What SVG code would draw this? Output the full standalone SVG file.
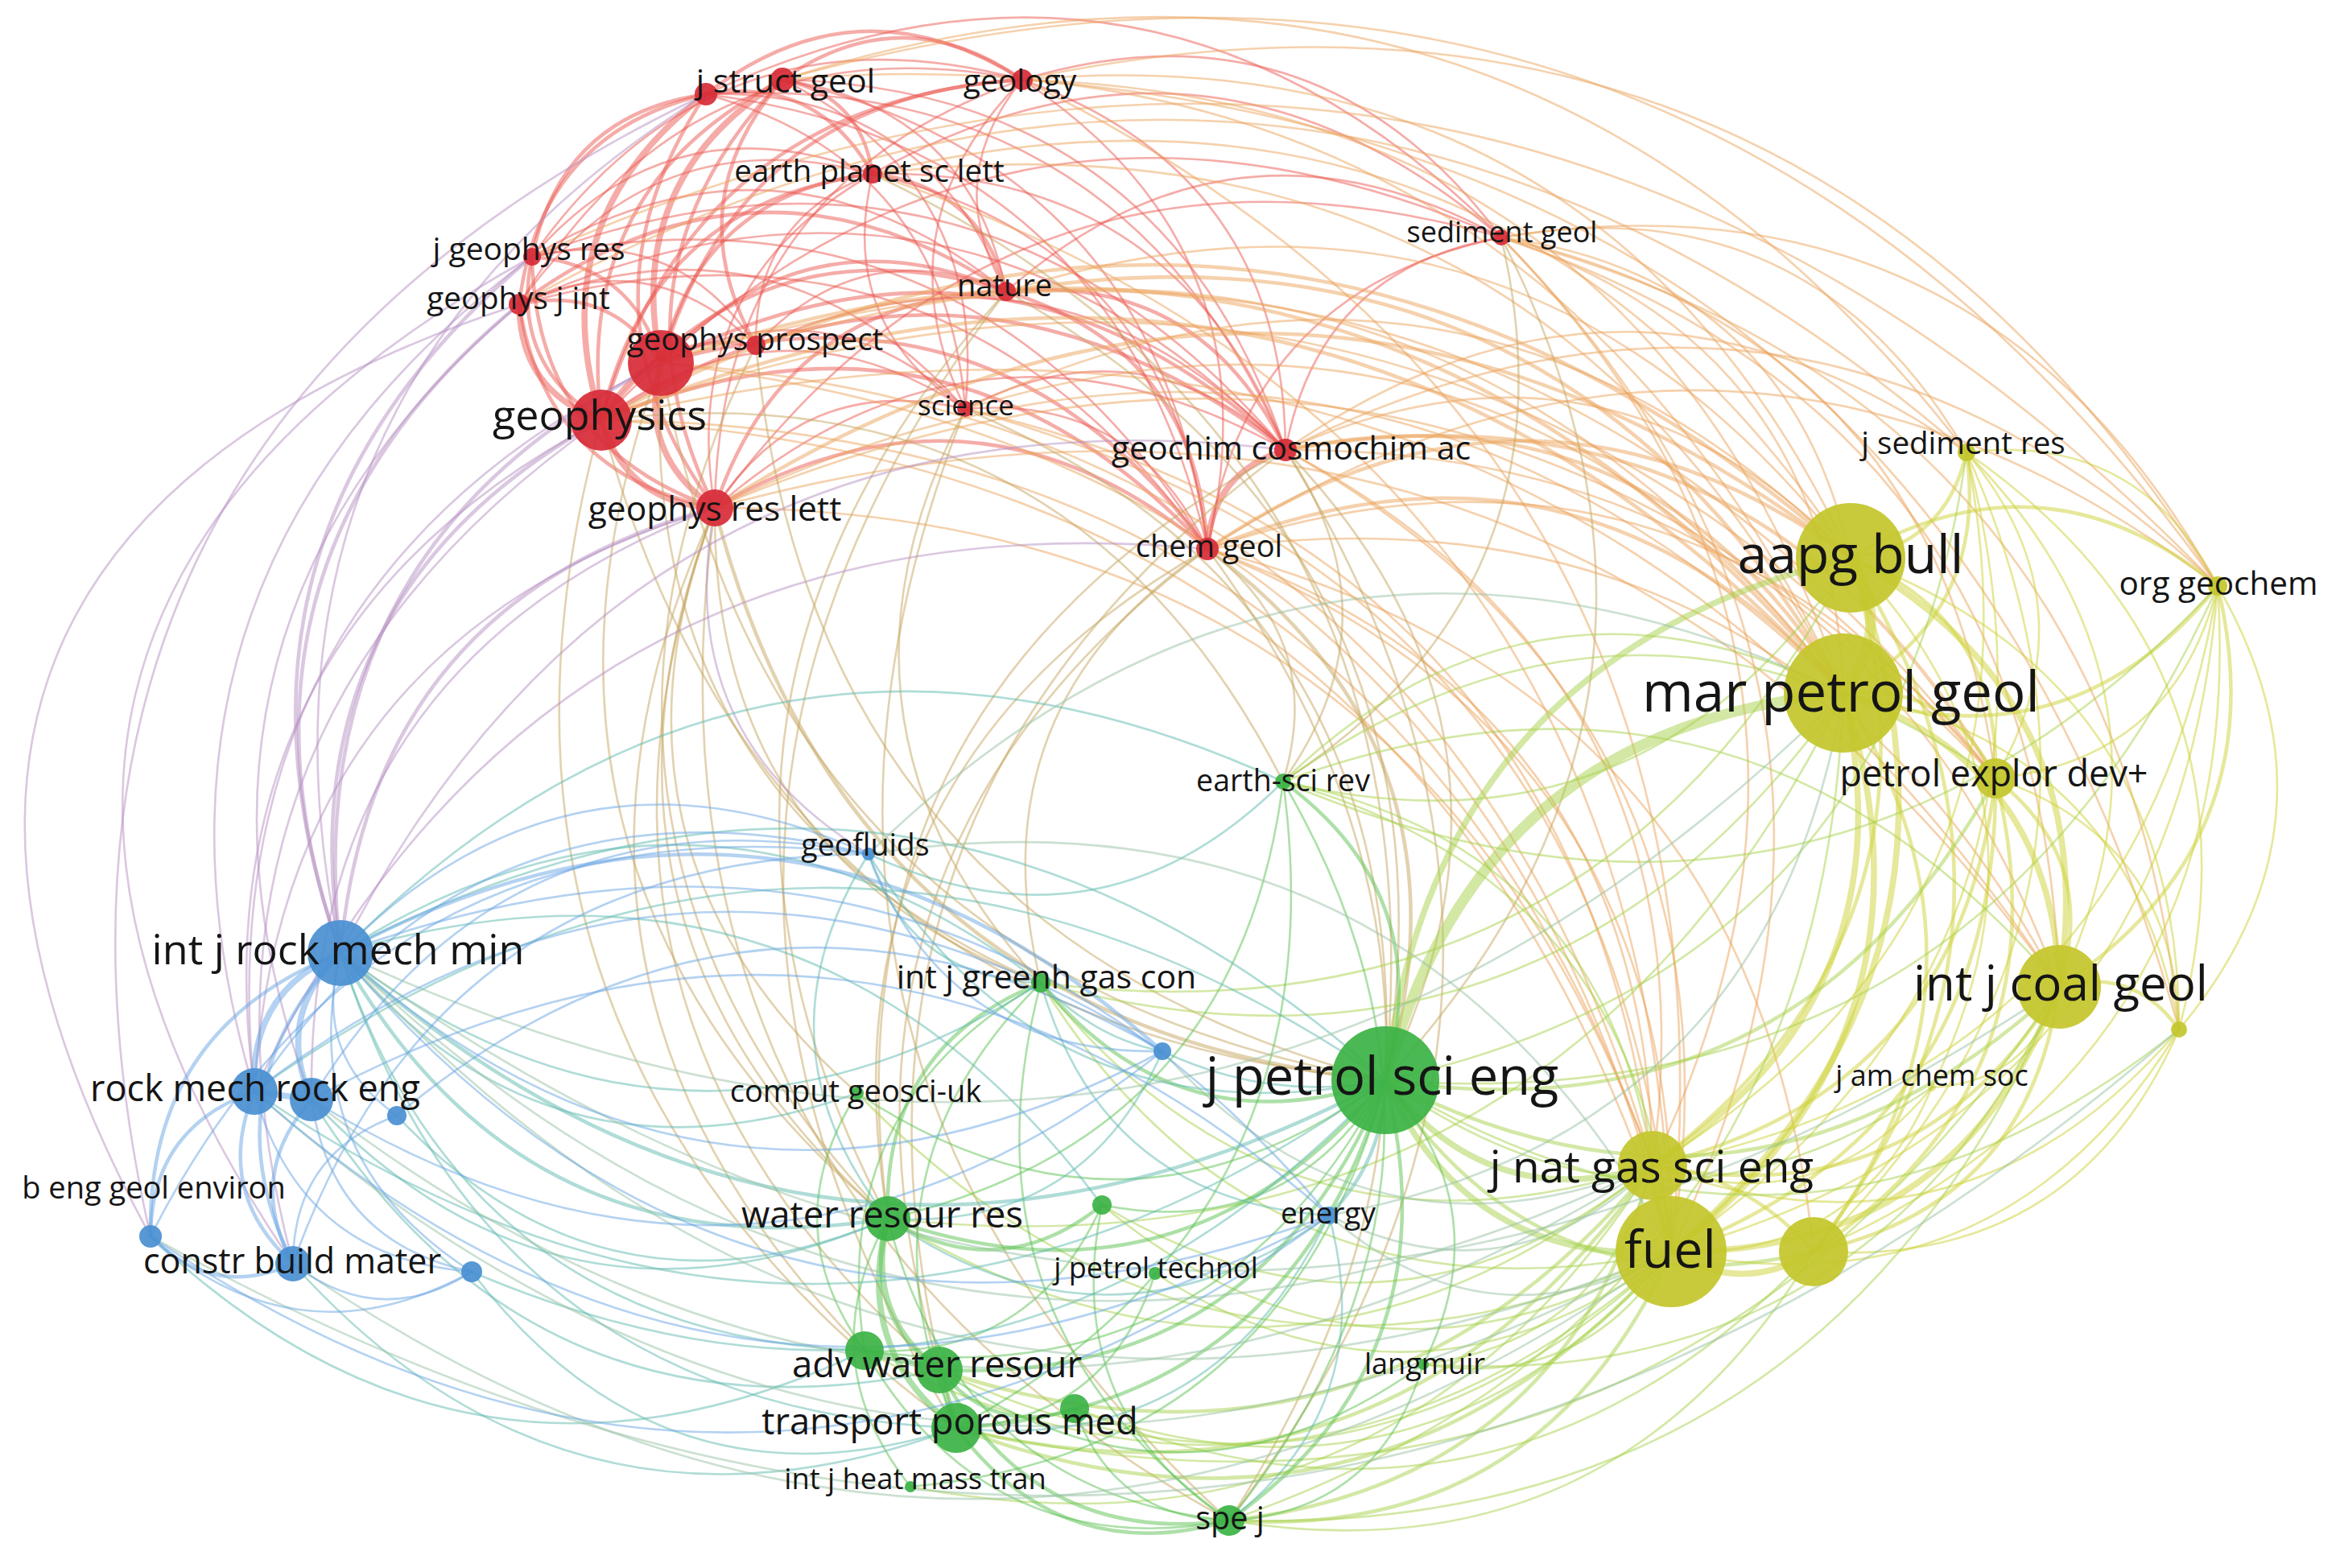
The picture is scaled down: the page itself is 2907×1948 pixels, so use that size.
<svg xmlns="http://www.w3.org/2000/svg" width="2907" height="1948" viewBox="0 0 2907 1948">
<style>
.e{fill:none;stroke-linecap:round;stroke-opacity:.5}
.w1{stroke-width:2.6}.w2{stroke-width:4.5}.w3{stroke-width:7.5}.w4{stroke-width:13}
.rr{stroke:#ec5a52}.ry{stroke:#eba35c}.rg{stroke:#c5a560}.rb{stroke:#b590c2}
.yy{stroke:#cdd236}.yg{stroke:#a8d24c}.gg{stroke:#5cc252}.gb{stroke:#5fb9b0}
.bb{stroke:#6aa6e4}.yb{stroke:#98c2a4}
.nr{fill:#d72c38;fill-opacity:.93}.ny{fill:#c4c62c;fill-opacity:.93}.ng{fill:#3cb346;fill-opacity:.93}.nb{fill:#4a90d2;fill-opacity:.93}
text{font-family:"Open Sans","Liberation Sans",sans-serif;fill:#151515;text-anchor:middle}
</style>
<rect width="2907" height="1948" fill="#fff"/>
<g id="connectors">
<path class="e rr w2" d="M877 117Q1067 -30 1270 99"/>
<path class="e rr w2" d="M972 99Q1121 -5 1270 99"/>
<path class="e rr w2" d="M972 99Q1069 118 1084 216"/>
<path class="e rr w3" d="M877 117Q670 274 747 522"/>
<path class="e rr w3" d="M972 99Q773 222 821 451"/>
<path class="e rr w2" d="M877 117Q703 378 888 631"/>
<path class="e rr w2" d="M972 99Q744 336 888 631"/>
<path class="e rr w2" d="M661 319Q633 451 747 522"/>
<path class="e rr w3" d="M645 378Q646 486 747 522"/>
<path class="e rr w2" d="M645 378Q759 353 821 451"/>
<path class="e rr w2" d="M645 378Q678 590 888 631"/>
<path class="e rr w1" d="M661 319Q836 119 1084 216"/>
<path class="e rr w2" d="M645 378Q670 166 877 117"/>
<path class="e rr w2" d="M747 522Q808 251 1084 216"/>
<path class="e rr w2" d="M821 451Q1004 256 1250 362"/>
<path class="e rr w1" d="M747 522Q968 357 1199 508"/>
<path class="e rr w2" d="M821 451Q1247 233 1597 559"/>
<path class="e rr w2" d="M747 522Q1180 338 1500 682"/>
<path class="e rr w1" d="M888 631Q1217 347 1597 559"/>
<path class="e rr w2" d="M888 631Q1212 442 1500 682"/>
<path class="e rr w1" d="M1270 99Q1168 223 1250 362"/>
<path class="e rr w1" d="M1084 216Q1039 402 1199 508"/>
<path class="e rr w1" d="M1084 216Q1455 303 1500 682"/>
<path class="e rr w2" d="M1250 362Q1492 339 1597 559"/>
<path class="e rr w3" d="M1597 559Q1505 587 1500 682"/>
<path class="e rr w1" d="M1865 295Q1639 333 1597 559"/>
<path class="e rr w1" d="M1865 295Q1547 361 1500 682"/>
<path class="e rr w1" d="M1865 295Q1636 -11 1270 99"/>
<path class="e rr w2" d="M747 522Q860 127 1270 99"/>
<path class="e rr w2" d="M661 319Q698 142 877 117"/>
<path class="e rr w1" d="M888 631Q1000 461 1199 508"/>
<path class="e rr w2" d="M821 451Q870 241 1084 216"/>
<path class="e rr w1" d="M939 429Q1071 287 1250 362"/>
<path class="e rr w1" d="M747 522Q1226 17 1865 295"/>
<path class="e rr w1" d="M645 378Q1184 135 1597 559"/>
<path class="e rr w1" d="M661 319Q888 -4 1270 99"/>
<path class="e rr w1" d="M888 631Q841 355 1084 216"/>
<path class="e rr w2" d="M821 451Q1241 329 1500 682"/>
<path class="e rr w3" d="M747 522Q779 626 888 631"/>
<path class="e rr w3" d="M821 451Q791 564 888 631"/>
<path class="e rr w2" d="M661 319Q787 329 821 451"/>
<path class="e rr w2" d="M747 522Q942 266 1250 362"/>
<path class="e rr w2" d="M747 522Q1185 243 1597 559"/>
<path class="e rr w1" d="M888 631Q1259 121 1865 295"/>
<path class="e rr w1" d="M1084 216Q1461 208 1597 559"/>
<path class="e rr w1" d="M1270 99Q1595 215 1597 559"/>
<path class="e rr w1" d="M972 99Q1203 133 1250 362"/>
<path class="e rr w1" d="M645 378Q808 143 1084 216"/>
<path class="e rr w2" d="M877 117Q1015 94 1084 216"/>
<path class="e rr w1" d="M877 117Q1149 109 1250 362"/>
<path class="e rr w1" d="M877 117Q1392 86 1597 559"/>
<path class="e rr w1" d="M972 99Q1446 110 1597 559"/>
<path class="e rr w1" d="M972 99Q1229 224 1199 508"/>
<path class="e rr w1" d="M972 99Q1440 206 1500 682"/>
<path class="e rr w2" d="M1270 99Q922 118 821 451"/>
<path class="e rr w1" d="M1270 99Q893 231 888 631"/>
<path class="e rr w1" d="M1270 99Q1589 310 1500 682"/>
<path class="e rr w1" d="M1270 99Q1091 279 1199 508"/>
<path class="e rr w2" d="M1084 216Q1218 231 1250 362"/>
<path class="e rr w1" d="M1084 216Q1502 -18 1865 295"/>
<path class="e rr w2" d="M645 378Q942 158 1250 362"/>
<path class="e rr w1" d="M645 378Q1179 231 1500 682"/>
<path class="e rr w2" d="M661 319Q665 554 888 631"/>
<path class="e rr w1" d="M661 319Q1213 111 1597 559"/>
<path class="e rr w1" d="M939 429Q1314 264 1597 559"/>
<path class="e rr w2" d="M939 429Q840 252 972 99"/>
<path class="e rr w2" d="M747 522Q810 408 939 429"/>
<path class="e rr w2" d="M888 631Q975 370 1250 362"/>
<path class="e rr w1" d="M1199 508Q1416 394 1597 559"/>
<path class="e rr w1" d="M1199 508Q1410 490 1500 682"/>
<path class="e rr w2" d="M1250 362Q1487 434 1500 682"/>
<path class="e rr w1" d="M1250 362Q1534 113 1865 295"/>
<path class="e rr w1" d="M821 451Q1030 347 1199 508"/>
<path class="e rr w1" d="M661 319Q839 277 939 429"/>
<path class="e rr w1" d="M645 378Q810 301 939 429"/>
<path class="e rr w1" d="M645 378Q860 20 1270 99"/>
<path class="e rr w1" d="M645 378Q968 249 1199 508"/>
<path class="e rr w1" d="M661 319Q971 134 1250 362"/>
<path class="e rr w1" d="M661 319Q1208 207 1500 682"/>
<path class="e rr w1" d="M939 429Q937 272 1084 216"/>
<path class="e rr w1" d="M877 117Q1175 200 1199 508"/>
<path class="e rr w1" d="M877 117Q1386 181 1500 682"/>
<path class="e rr w1" d="M877 117Q1433 -140 1865 295"/>
<path class="e rr w2" d="M747 522Q711 232 972 99"/>
<path class="e ry w2" d="M747 522Q1583 64 2299 693"/>
<path class="e ry w2" d="M821 451Q1699 142 2290 861"/>
<path class="e ry w1" d="M888 631Q1670 255 2290 861"/>
<path class="e ry w1" d="M1865 295Q2221 342 2299 693"/>
<path class="e ry w1" d="M1865 295Q2276 429 2290 861"/>
<path class="e ry w1" d="M1865 295Q2247 226 2443 562"/>
<path class="e ry w1" d="M1865 295Q2462 200 2755 728"/>
<path class="e ry w2" d="M1597 559Q2049 467 2290 861"/>
<path class="e ry w1" d="M1597 559Q1995 380 2299 693"/>
<path class="e ry w2" d="M1500 682Q1958 495 2290 861"/>
<path class="e ry w1" d="M1500 682Q2219 584 2558 1226"/>
<path class="e ry w1" d="M1270 99Q2233 -106 2755 728"/>
<path class="e ry w1" d="M1270 99Q1992 36 2299 693"/>
<path class="e ry w1" d="M1084 216Q1913 116 2290 861"/>
<path class="e ry w1" d="M972 99Q1870 -184 2443 562"/>
<path class="e ry w1" d="M1250 362Q1890 160 2299 693"/>
<path class="e ry w1" d="M1199 508Q1868 303 2290 861"/>
<path class="e ry w1" d="M661 319Q1851 -209 2755 728"/>
<path class="e ry w1" d="M747 522Q1899 240 2558 1226"/>
<path class="e ry w1" d="M821 451Q1831 129 2479 967"/>
<path class="e ry w1" d="M1500 682Q2094 917 2076 1555"/>
<path class="e ry w1" d="M1597 559Q2311 556 2558 1226"/>
<path class="e ry w1" d="M1865 295Q2407 416 2479 967"/>
<path class="e ry w2" d="M888 631Q1615 168 2299 693"/>
<path class="e ry w1" d="M645 378Q1608 -159 2443 562"/>
<path class="e ry w1" d="M1500 682Q2045 871 2053 1448"/>
<path class="e ry w1" d="M747 522Q1773 573 2076 1555"/>
<path class="e ry w1" d="M888 631Q1756 632 2053 1448"/>
<path class="e ry w1" d="M821 451Q1835 564 2076 1555"/>
<path class="e ry w1" d="M1199 508Q1955 679 2053 1448"/>
<path class="e ry w1" d="M1597 559Q2136 844 2053 1448"/>
<path class="e ry w1" d="M1500 682Q2182 855 2253 1555"/>
<path class="e ry w1" d="M1084 216Q2049 538 2076 1555"/>
<path class="e ry w1" d="M1270 99Q2183 545 2076 1555"/>
<path class="e ry w1" d="M1865 295Q2412 851 2076 1555"/>
<path class="e ry w1" d="M1865 295Q2537 518 2558 1226"/>
<path class="e ry w1" d="M972 99Q2084 -211 2755 728"/>
<path class="e ry w1" d="M1270 99Q2402 186 2707 1279"/>
<path class="e ry w2" d="M1597 559Q2181 454 2479 967"/>
<path class="e ry w2" d="M1500 682Q1903 408 2299 693"/>
<path class="e ry w1" d="M1500 682Q2089 482 2479 967"/>
<path class="e ry w1" d="M1500 682Q2144 266 2755 728"/>
<path class="e ry w1" d="M1597 559Q2235 238 2755 728"/>
<path class="e ry w1" d="M1597 559Q2021 264 2443 562"/>
<path class="e ry w2" d="M1250 362Q1945 248 2290 861"/>
<path class="e ry w1" d="M1199 508Q1814 216 2299 693"/>
<path class="e ry w1" d="M939 429Q1766 172 2290 861"/>
<path class="e ry w2" d="M747 522Q1637 151 2290 861"/>
<path class="e ry w1" d="M888 631Q1931 344 2558 1226"/>
<path class="e ry w1" d="M1865 295Q2363 806 2053 1448"/>
<path class="e ry w1" d="M1270 99Q2047 123 2290 861"/>
<path class="e ry w1" d="M1084 216Q1858 29 2299 693"/>
<path class="e ry w1" d="M972 99Q1898 19 2290 861"/>
<path class="e ry w1" d="M747 522Q1769 138 2479 967"/>
<path class="e ry w1" d="M888 631Q1801 242 2479 967"/>
<path class="e ry w1" d="M1865 295Q2630 492 2707 1279"/>
<path class="e ry w1" d="M1597 559Q2185 889 2076 1555"/>
<path class="e ry w1" d="M1199 508Q2004 725 2076 1555"/>
<path class="e ry w1" d="M747 522Q1724 528 2053 1448"/>
<path class="e ry w1" d="M821 451Q1786 518 2053 1448"/>
<path class="e rg w1" d="M747 522Q947 1273 1721 1342"/>
<path class="e rg w2" d="M888 631Q1056 1278 1721 1342"/>
<path class="e rg w1" d="M821 451Q959 1212 1721 1342"/>
<path class="e rg w2" d="M1500 682Q1842 935 1721 1342"/>
<path class="e rg w1" d="M1597 559Q1933 907 1721 1342"/>
<path class="e rg w1" d="M1597 559Q1740 766 1594 971"/>
<path class="e rg w1" d="M1500 682Q1648 794 1594 971"/>
<path class="e rg w1" d="M888 631Q686 1148 1103 1514"/>
<path class="e rg w1" d="M747 522Q534 1296 1188 1774"/>
<path class="e rg w1" d="M1199 508Q886 1304 1527 1889"/>
<path class="e rg w1" d="M1500 682Q1010 959 1103 1514"/>
<path class="e rg w1" d="M888 631Q884 1068 1293 1221"/>
<path class="e rg w1" d="M1250 362Q1828 687 1721 1342"/>
<path class="e rg w1" d="M1084 216Q1797 556 1721 1342"/>
<path class="e rg w1" d="M1865 295Q2159 869 1721 1342"/>
<path class="e rg w1" d="M888 631Q618 1215 1074 1678"/>
<path class="e rg w1" d="M1199 508Q996 897 1293 1221"/>
<path class="e rg w1" d="M1500 682Q1208 879 1293 1221"/>
<path class="e rg w1" d="M1597 559Q972 1017 1188 1774"/>
<path class="e rg w1" d="M1250 362Q773 887 1103 1514"/>
<path class="e rg w1" d="M939 429Q1010 1159 1721 1342"/>
<path class="e rg w1" d="M1597 559Q2021 1240 1527 1889"/>
<path class="e rg w1" d="M888 631Q722 1056 1065 1358"/>
<path class="e rg w1" d="M747 522Q1328 450 1594 971"/>
<path class="e rg w1" d="M821 451Q788 1001 1293 1221"/>
<path class="e rg w1" d="M939 429Q641 1029 1103 1514"/>
<path class="e rg w1" d="M1199 508Q1752 742 1721 1342"/>
<path class="e rg w1" d="M888 631Q657 1259 1167 1702"/>
<path class="e rg w1" d="M1500 682Q980 1070 1167 1702"/>
<path class="e rg w1" d="M1597 559Q1016 864 1103 1514"/>
<path class="e rg w1" d="M1500 682Q1930 1267 1527 1889"/>
<path class="e rg w1" d="M821 451Q590 1081 1103 1514"/>
<path class="e rg w1" d="M888 631Q773 1475 1527 1889"/>
<path class="e rg w1" d="M1250 362Q729 1040 1188 1774"/>
<path class="e rg w1" d="M1865 295Q1966 728 1594 971"/>
<path class="e rb w2" d="M645 378Q252 703 423 1184"/>
<path class="e rb w1" d="M661 319Q126 717 316 1356"/>
<path class="e rb w2" d="M747 522Q353 740 423 1184"/>
<path class="e rb w2" d="M888 631Q462 745 423 1184"/>
<path class="e rb w1" d="M645 378Q-279 682 187 1536"/>
<path class="e rb w1" d="M661 319Q-176 781 364 1570"/>
<path class="e rb w1" d="M821 451Q252 727 316 1356"/>
<path class="e rb w1" d="M877 117Q277 492 423 1184"/>
<path class="e rb w1" d="M888 631Q380 823 387 1366"/>
<path class="e rb w1" d="M888 631Q833 913 1079 1061"/>
<path class="e rb w1" d="M747 522Q189 912 364 1570"/>
<path class="e rb w1" d="M877 117Q-36 551 187 1536"/>
<path class="e rb w1" d="M423 1184Q791 461 1597 559"/>
<path class="e rb w1" d="M316 1356Q672 605 1500 682"/>
<path class="e rb w1" d="M645 378Q170 782 387 1366"/>
<path class="e rb w2" d="M661 319Q239 668 423 1184"/>
<path class="e rb w1" d="M747 522Q240 788 316 1356"/>
<path class="e rb w1" d="M888 631Q348 793 316 1356"/>
<path class="e rb w2" d="M821 451Q365 678 423 1184"/>
<path class="e yy w4" d="M2299 693Q2353 780 2290 861"/>
<path class="e yy w3" d="M2290 861Q2377 1237 2053 1448"/>
<path class="e yy w3" d="M2290 861Q2426 1283 2076 1555"/>
<path class="e yy w3" d="M2299 693Q2489 1202 2076 1555"/>
<path class="e yy w2" d="M2299 693Q2440 1157 2053 1448"/>
<path class="e yy w3" d="M2290 861Q2552 950 2558 1226"/>
<path class="e yy w3" d="M2299 693Q2615 869 2558 1226"/>
<path class="e yy w3" d="M2558 1226Q2432 1559 2076 1555"/>
<path class="e yy w2" d="M2558 1226Q2383 1514 2053 1448"/>
<path class="e yy w2" d="M2558 1226Q2521 1497 2253 1555"/>
<path class="e yy w2" d="M2290 861Q2514 1221 2253 1555"/>
<path class="e yy w2" d="M2755 728Q2539 551 2299 693"/>
<path class="e yy w2" d="M2755 728Q2569 957 2290 861"/>
<path class="e yy w2" d="M2755 728Q2831 1046 2558 1226"/>
<path class="e yy w1" d="M2755 728Q2705 1379 2076 1555"/>
<path class="e yy w1" d="M2755 728Q2656 1334 2053 1448"/>
<path class="e yy w2" d="M2443 562Q2417 678 2299 693"/>
<path class="e yy w2" d="M2443 562Q2471 765 2290 861"/>
<path class="e yy w1" d="M2443 562Q2657 536 2755 728"/>
<path class="e yy w1" d="M2443 562Q2733 854 2558 1226"/>
<path class="e yy w1" d="M2443 562Q2607 1187 2076 1555"/>
<path class="e yy w2" d="M2479 967Q2485 767 2299 693"/>
<path class="e yy w2" d="M2479 967Q2434 1357 2053 1448"/>
<path class="e yy w2" d="M2479 967Q2483 1402 2076 1555"/>
<path class="e yy w2" d="M2479 967Q2609 1069 2558 1226"/>
<path class="e yy w1" d="M2707 1279Q2488 1638 2076 1555"/>
<path class="e yy w1" d="M2707 1279Q2645 924 2290 861"/>
<path class="e yy w1" d="M2707 1279Q2708 843 2299 693"/>
<path class="e yy w1" d="M2707 1279Q2439 1592 2053 1448"/>
<path class="e yy w1" d="M2400 1351Q2309 1566 2076 1555"/>
<path class="e yy w2" d="M2253 1555Q2578 1140 2299 693"/>
<path class="e yy w1" d="M2755 728Q2794 1317 2253 1555"/>
<path class="e yy w1" d="M2443 562Q2558 1142 2053 1448"/>
<path class="e yy w1" d="M2707 1279Q2924 1020 2755 728"/>
<path class="e yy w1" d="M2707 1279Q2826 828 2443 562"/>
<path class="e yy w4" d="M2053 1448L2076 1555"/>
<path class="e yy w3" d="M2076 1555Q2164 1610 2253 1555"/>
<path class="e yy w2" d="M2053 1448Q2170 1460 2253 1555"/>
<path class="e yy w2" d="M2290 861Q2422 848 2479 967"/>
<path class="e yy w2" d="M2479 967Q2572 1340 2253 1555"/>
<path class="e yy w2" d="M2558 1226Q2651 1200 2707 1279"/>
<path class="e yy w1" d="M2443 562Q2603 752 2479 967"/>
<path class="e yy w1" d="M2755 728Q2701 944 2479 967"/>
<path class="e yy w1" d="M2443 562Q2696 1125 2253 1555"/>
<path class="e yy w1" d="M2400 1351Q2261 1521 2053 1448"/>
<path class="e yy w1" d="M2400 1351Q2523 1344 2558 1226"/>
<path class="e yy w1" d="M2400 1351Q2580 987 2299 693"/>
<path class="e yy w1" d="M2707 1279Q2577 1576 2253 1555"/>
<path class="e yy w1" d="M2707 1279Q2702 1043 2479 967"/>
<path class="e yg w4" d="M1721 1342Q1837 902 2290 861"/>
<path class="e yg w3" d="M1721 1342Q1783 815 2299 693"/>
<path class="e yg w3" d="M1721 1342Q1850 1511 2053 1448"/>
<path class="e yg w3" d="M1721 1342Q1824 1573 2076 1555"/>
<path class="e yg w2" d="M1721 1342Q2180 1577 2558 1226"/>
<path class="e yg w2" d="M1721 1342Q1912 1635 2253 1555"/>
<path class="e yg w2" d="M1721 1342Q2231 1420 2479 967"/>
<path class="e yg w1" d="M1594 971Q1903 672 2290 861"/>
<path class="e yg w1" d="M1594 971Q2165 761 2558 1226"/>
<path class="e yg w1" d="M1594 971Q2039 1094 2076 1555"/>
<path class="e yg w2" d="M1527 1889Q1912 1915 2076 1555"/>
<path class="e yg w1" d="M1527 1889Q2268 1910 2558 1226"/>
<path class="e yg w1" d="M1527 1889Q2001 1967 2253 1555"/>
<path class="e yg w2" d="M1527 1889Q1938 1844 2053 1448"/>
<path class="e yg w2" d="M1188 1774Q1704 1969 2076 1555"/>
<path class="e yg w1" d="M1188 1774Q2060 1973 2558 1226"/>
<path class="e yg w2" d="M1167 1702Q1695 1880 2053 1448"/>
<path class="e yg w1" d="M1768 1695Q1968 1728 2076 1555"/>
<path class="e yg w1" d="M1768 1695Q2324 1732 2558 1226"/>
<path class="e yg w1" d="M1103 1514Q1601 1814 2053 1448"/>
<path class="e yg w1" d="M1293 1221Q1594 1600 2053 1448"/>
<path class="e yg w1" d="M1293 1221Q1918 1390 2290 861"/>
<path class="e yg w1" d="M1369 1497Q1702 1773 2076 1555"/>
<path class="e yg w1" d="M1335 1750Q1858 1967 2253 1555"/>
<path class="e yg w1" d="M1721 1342Q2355 1205 2443 562"/>
<path class="e yg w1" d="M1721 1342Q2453 1397 2755 728"/>
<path class="e yg w1" d="M1594 971Q2044 1079 2299 693"/>
<path class="e yg w1" d="M1065 1358Q1502 1810 2076 1555"/>
<path class="e yg w1" d="M1074 1678Q1615 1963 2076 1555"/>
<path class="e yg w1" d="M1131 1847Q1726 1962 2053 1448"/>
<path class="e yg w1" d="M1293 1221Q1568 1662 2076 1555"/>
<path class="e yg w1" d="M1594 971Q1990 1049 2053 1448"/>
<path class="e yg w1" d="M1594 971Q2035 659 2479 967"/>
<path class="e yg w1" d="M1293 1221Q1981 1309 2299 693"/>
<path class="e yg w1" d="M1103 1514Q1925 1603 2290 861"/>
<path class="e yg w2" d="M1188 1774Q1730 1908 2053 1448"/>
<path class="e yg w1" d="M1167 1702Q1669 1941 2076 1555"/>
<path class="e yg w1" d="M1527 1889Q2262 1633 2290 861"/>
<path class="e yg w1" d="M1721 1342Q2236 1656 2707 1279"/>
<path class="e yg w1" d="M1721 1342Q2057 1584 2400 1351"/>
<path class="e yg w1" d="M1335 1750Q1769 1905 2076 1555"/>
<path class="e yg w1" d="M1369 1497Q1728 1712 2053 1448"/>
<path class="e yg w1" d="M1435 1582Q1763 1790 2076 1555"/>
<path class="e yg w1" d="M1768 1695Q1993 1666 2053 1448"/>
<path class="e yg w1" d="M1594 971Q2260 1256 2755 728"/>
<path class="e gg w2" d="M1721 1342Q1472 1644 1103 1514"/>
<path class="e gg w2" d="M1721 1342Q1566 1720 1167 1702"/>
<path class="e gg w2" d="M1721 1342Q1601 1750 1188 1774"/>
<path class="e gg w1" d="M1721 1342Q1512 1740 1074 1678"/>
<path class="e gg w2" d="M1721 1342Q1809 1690 1527 1889"/>
<path class="e gg w2" d="M1721 1342Q1465 1431 1293 1221"/>
<path class="e gg w2" d="M1721 1342Q1787 1112 1594 971"/>
<path class="e gg w1" d="M1721 1342Q1399 1580 1065 1358"/>
<path class="e gg w1" d="M1721 1342Q1599 1543 1369 1497"/>
<path class="e gg w1" d="M1721 1342Q1865 1505 1768 1695"/>
<path class="e gg w1" d="M1721 1342Q1597 1805 1131 1847"/>
<path class="e gg w3" d="M1103 1514Q1059 1677 1188 1774"/>
<path class="e gg w3" d="M1103 1514Q1073 1633 1167 1702"/>
<path class="e gg w1" d="M1074 1678Q1230 1945 1527 1889"/>
<path class="e gg w2" d="M1188 1774Q1319 1950 1527 1889"/>
<path class="e gg w2" d="M1167 1702Q1284 1922 1527 1889"/>
<path class="e gg w1" d="M1103 1514Q1190 1855 1527 1889"/>
<path class="e gg w2" d="M1293 1221Q1095 1301 1103 1514"/>
<path class="e gg w1" d="M1293 1221Q1052 1460 1188 1774"/>
<path class="e gg w1" d="M1594 971Q1668 1515 1188 1774"/>
<path class="e gg w1" d="M1594 971Q1539 1414 1103 1514"/>
<path class="e gg w1" d="M1369 1497Q1282 1690 1074 1678"/>
<path class="e gg w1" d="M1369 1497Q1317 1750 1527 1889"/>
<path class="e gg w1" d="M1435 1582Q1376 1765 1188 1774"/>
<path class="e gg w1" d="M1335 1750Q1384 1887 1527 1889"/>
<path class="e gg w1" d="M1768 1695Q1713 1878 1527 1889"/>
<path class="e gg w1" d="M1065 1358Q961 1522 1074 1678"/>
<path class="e gg w1" d="M1131 1847Q1006 1690 1103 1514"/>
<path class="e gg w1" d="M1293 1221Q1183 1640 1527 1889"/>
<path class="e gg w1" d="M1594 971Q1876 1455 1527 1889"/>
<path class="e gg w1" d="M1293 1221Q1027 1372 1074 1678"/>
<path class="e gg w2" d="M1103 1514Q1242 1599 1369 1497"/>
<path class="e gg w2" d="M1167 1702Q1235 1785 1335 1750"/>
<path class="e gg w1" d="M1768 1695Q1470 1910 1167 1702"/>
<path class="e gg w3" d="M1167 1702L1188 1774"/>
<path class="e gg w3" d="M1074 1678L1167 1702"/>
<path class="e gb w2" d="M423 1184Q1017 1717 1721 1342"/>
<path class="e gb w2" d="M423 1184Q648 1587 1103 1514"/>
<path class="e gb w1" d="M423 1184Q579 1660 1074 1678"/>
<path class="e gb w1" d="M423 1184Q604 1750 1188 1774"/>
<path class="e gb w1" d="M316 1356Q1023 1841 1721 1342"/>
<path class="e gb w1" d="M387 1366Q693 1691 1103 1514"/>
<path class="e gb w1" d="M387 1366Q663 1810 1167 1702"/>
<path class="e gb w1" d="M364 1570Q709 1954 1188 1774"/>
<path class="e gb w1" d="M187 1536Q584 1913 1074 1678"/>
<path class="e gb w1" d="M423 1184Q845 1507 1293 1221"/>
<path class="e gb w1" d="M1079 1061Q1302 1426 1721 1342"/>
<path class="e gb w1" d="M1651 1510Q1378 1705 1103 1514"/>
<path class="e gb w1" d="M1651 1510Q1715 1745 1527 1889"/>
<path class="e gb w1" d="M1651 1510Q1507 1809 1188 1774"/>
<path class="e gb w1" d="M586 1580Q824 1891 1188 1774"/>
<path class="e gb w1" d="M586 1580Q1237 1858 1721 1342"/>
<path class="e gb w1" d="M493 1386Q753 1663 1103 1514"/>
<path class="e gb w1" d="M1444 1306Q1580 1370 1721 1342"/>
<path class="e gb w1" d="M1444 1306Q1360 1290 1293 1221"/>
<path class="e gb w2" d="M1651 1510Q1720 1440 1721 1342"/>
<path class="e gb w1" d="M423 1184Q934 668 1594 971"/>
<path class="e gb w1" d="M423 1184Q683 1496 1065 1358"/>
<path class="e gb w1" d="M1079 1061Q1130 1216 1293 1221"/>
<path class="e gb w1" d="M1079 1061Q932 1296 1103 1514"/>
<path class="e gb w1" d="M1079 1061Q1368 1196 1594 971"/>
<path class="e gb w1" d="M1444 1306Q1346 1529 1103 1514"/>
<path class="e gb w1" d="M1651 1510Q1370 1492 1293 1221"/>
<path class="e gb w1" d="M423 1184Q1127 809 1721 1342"/>
<path class="e gb w1" d="M316 1356Q1014 857 1721 1342"/>
<path class="e gb w1" d="M423 1184Q1006 1009 1369 1497"/>
<path class="e gb w1" d="M423 1184Q871 898 1293 1221"/>
<path class="e yb w1" d="M1651 1510Q1849 1682 2076 1555"/>
<path class="e yb w1" d="M316 1356Q1126 2072 2076 1555"/>
<path class="e yb w1" d="M423 1184Q1476 1952 2558 1226"/>
<path class="e yb w1" d="M187 1536Q1537 2290 2707 1279"/>
<path class="e yb w1" d="M364 1570Q1225 2162 2076 1555"/>
<path class="e yb w1" d="M387 1366Q1191 1990 2053 1448"/>
<path class="e yb w1" d="M423 1184Q1470 1676 2290 861"/>
<path class="e yb w1" d="M1079 1061Q1615 537 2290 861"/>
<path class="e yb w1" d="M1444 1306Q1699 1590 2053 1448"/>
<path class="e yb w1" d="M1651 1510Q1874 1621 2053 1448"/>
<path class="e yb w1" d="M423 1184Q1146 1886 2053 1448"/>
<path class="e yb w1" d="M423 1184Q1120 1948 2076 1555"/>
<path class="e yb w1" d="M1651 1510Q2198 1410 2290 861"/>
<path class="e yb w1" d="M1079 1061Q1750 959 2076 1555"/>
<path class="e bb w3" d="M423 1184Q309 1232 316 1356"/>
<path class="e bb w3" d="M423 1184Q341 1262 387 1366"/>
<path class="e bb w2" d="M423 1184Q182 1277 187 1536"/>
<path class="e bb w2" d="M423 1184Q258 1356 364 1570"/>
<path class="e bb w1" d="M423 1184Q366 1439 586 1580"/>
<path class="e bb w1" d="M423 1184Q387 1310 493 1386"/>
<path class="e bb w2" d="M316 1356Q188 1401 187 1536"/>
<path class="e bb w2" d="M316 1356Q265 1480 364 1570"/>
<path class="e bb w2" d="M387 1366Q304 1460 364 1570"/>
<path class="e bb w2" d="M187 1536Q264 1615 364 1570"/>
<path class="e bb w1" d="M364 1570Q472 1653 586 1580"/>
<path class="e bb w1" d="M387 1366Q412 1543 586 1580"/>
<path class="e bb w1" d="M187 1536Q371 1698 586 1580"/>
<path class="e bb w1" d="M316 1356Q373 1563 586 1580"/>
<path class="e bb w1" d="M316 1356Q929 1901 1651 1510"/>
<path class="e bb w1" d="M187 1536Q927 2036 1651 1510"/>
<path class="e bb w1" d="M387 1366Q937 1706 1444 1306"/>
<path class="e bb w1" d="M1079 1061Q626 971 387 1366"/>
<path class="e bb w1" d="M493 1386Q364 1433 364 1570"/>
<path class="e bb w1" d="M1079 1061Q708 893 423 1184"/>
<path class="e bb w1" d="M1444 1306Q891 1602 423 1184"/>
<path class="e bb w1" d="M1651 1510Q922 1778 423 1184"/>
<path class="e bb w3" d="M316 1356L387 1366"/>
<path class="e bb w1" d="M1079 1061Q1176 1311 1444 1306"/>
<path class="e bb w1" d="M316 1356Q594 941 1079 1061"/>
<path class="e bb w2" d="M423 1184Q976 888 1444 1306"/>
<path class="e bb w1" d="M423 1184Q1152 918 1651 1510"/>
<path class="e bb w1" d="M316 1356Q862 936 1444 1306"/>
<path class="e bb w1" d="M387 1366Q1069 996 1651 1510"/>
<path class="e bb w1" d="M364 1570Q543 1065 1079 1061"/>
<path class="e bb w1" d="M187 1536Q467 986 1079 1061"/>
<path class="e bb w1" d="M493 1386Q940 1013 1444 1306"/>
</g>
<g id="node-r-unlabeled-1"><circle class="nr" cx="877" cy="117" r="14"/></g>
<g id="node-r-unlabeled-2"><circle class="nr" cx="821" cy="451" r="41"/></g>
<g id="node-y-unlabeled-1"><circle class="ny" cx="2253" cy="1555" r="43"/></g>
<g id="node-y-unlabeled-2"><circle class="ny" cx="2707" cy="1279" r="10"/></g>
<g id="node-g-unlabeled-1"><circle class="ng" cx="1074" cy="1678" r="24"/></g>
<g id="node-g-unlabeled-2"><circle class="ng" cx="1369" cy="1497" r="12"/></g>
<g id="node-g-unlabeled-3"><circle class="ng" cx="1335" cy="1750" r="18"/></g>
<g id="node-b-unlabeled-1"><circle class="nb" cx="387" cy="1366" r="27"/></g>
<g id="node-b-unlabeled-2"><circle class="nb" cx="493" cy="1386" r="12"/></g>
<g id="node-b-unlabeled-3"><circle class="nb" cx="586" cy="1580" r="13"/></g>
<g id="node-b-unlabeled-4"><circle class="nb" cx="1444" cy="1306" r="11"/></g>
<g id="node-j-struct-geol"><circle class="nr" cx="972" cy="99" r="15"/><text x="976" y="115" font-size="41">j struct geol</text></g>
<g id="node-geology"><circle class="nr" cx="1270" cy="99" r="13"/><text x="1267" y="114" font-size="39">geology</text></g>
<g id="node-earth-planet-sc-lett"><circle class="nr" cx="1084" cy="216" r="12"/><text x="1080" y="226" font-size="38.5">earth planet sc lett</text></g>
<g id="node-j-geophys-res"><circle class="nr" cx="661" cy="319" r="11"/><text x="657" y="323" font-size="39">j geophys res</text></g>
<g id="node-geophys-j-int"><circle class="nr" cx="645" cy="378" r="13"/><text x="644" y="384" font-size="38.5">geophys j int</text></g>
<g id="node-geophys-prospect"><circle class="nr" cx="939" cy="429" r="12"/><text x="938" y="435" font-size="38.5">geophys prospect</text></g>
<g id="node-geophysics"><circle class="nr" cx="747" cy="522" r="38"/><text x="745" y="534" font-size="52">geophysics</text></g>
<g id="node-nature"><circle class="nr" cx="1250" cy="362" r="12"/><text x="1248" y="368" font-size="38">nature</text></g>
<g id="node-science"><circle class="nr" cx="1199" cy="508" r="10"/><text x="1200" y="516" font-size="35">science</text></g>
<g id="node-geochim-cosmochim-ac"><circle class="nr" cx="1597" cy="559" r="14"/><text x="1604" y="571" font-size="41">geochim cosmochim ac</text></g>
<g id="node-geophys-res-lett"><circle class="nr" cx="888" cy="631" r="23"/><text x="888" y="647" font-size="42.5">geophys res lett</text></g>
<g id="node-chem-geol"><circle class="nr" cx="1500" cy="682" r="14"/><text x="1502" y="692" font-size="38">chem geol</text></g>
<g id="node-sediment-geol"><circle class="nr" cx="1865" cy="295" r="10"/><text x="1866" y="301" font-size="36">sediment geol</text></g>
<g id="node-j-sediment-res"><circle class="ny" cx="2443" cy="562" r="11"/><text x="2439" y="564" font-size="38.5">j sediment res</text></g>
<g id="node-aapg-bull"><circle class="ny" cx="2299" cy="693" r="68"/><text x="2299" y="712" font-size="66">aapg bull</text></g>
<g id="node-org-geochem"><circle class="ny" cx="2755" cy="728" r="12"/><text x="2756" y="739" font-size="40.5">org geochem</text></g>
<g id="node-mar-petrol-geol"><circle class="ny" cx="2290" cy="861" r="74"/><text x="2287" y="884" font-size="69">mar petrol geol</text></g>
<g id="node-petrol-explor-dev"><circle class="ny" cx="2479" cy="967" r="25"/><text x="2477" y="977" font-size="45">petrol explor dev+</text></g>
<g id="node-int-j-coal-geol"><circle class="ny" cx="2558" cy="1226" r="52"/><text x="2560" y="1243" font-size="60">int j coal geol</text></g>
<g id="node-j-am-chem-soc"><circle class="ny" cx="2400" cy="1351" r="5" opacity=".5"/><text x="2400" y="1349" font-size="36">j am chem soc</text></g>
<g id="node-j-nat-gas-sci-eng"><circle class="ny" cx="2053" cy="1448" r="43"/><text x="2052" y="1469" font-size="55">j nat gas sci eng</text></g>
<g id="node-fuel"><circle class="ny" cx="2076" cy="1555" r="69"/><text x="2075" y="1575" font-size="64.5">fuel</text></g>
<g id="node-earth-sci-rev"><circle class="ng" cx="1594" cy="971" r="10"/><text x="1594" y="983" font-size="37.5">earth-sci rev</text></g>
<g id="node-int-j-greenh-gas-con"><circle class="ng" cx="1293" cy="1221" r="12"/><text x="1300" y="1228" font-size="41">int j greenh gas con</text></g>
<g id="node-j-petrol-sci-eng"><circle class="ng" cx="1721" cy="1342" r="67"/><text x="1717" y="1360" font-size="65">j petrol sci eng</text></g>
<g id="node-comput-geosci-uk"><circle class="ng" cx="1065" cy="1358" r="8"/><text x="1063" y="1369" font-size="38">comput geosci-uk</text></g>
<g id="node-water-resour-res"><circle class="ng" cx="1103" cy="1514" r="28"/><text x="1096" y="1525" font-size="45.5">water resour res</text></g>
<g id="node-j-petrol-technol"><circle class="ng" cx="1435" cy="1582" r="8"/><text x="1436" y="1588" font-size="36">j petrol technol</text></g>
<g id="node-langmuir"><circle class="ng" cx="1768" cy="1695" r="7"/><text x="1770" y="1707" font-size="36">langmuir</text></g>
<g id="node-adv-water-resour"><circle class="ng" cx="1167" cy="1702" r="29"/><text x="1164" y="1711" font-size="45.5">adv water resour</text></g>
<g id="node-transport-porous-med"><circle class="ng" cx="1188" cy="1774" r="31"/><text x="1180" y="1782" font-size="45.3">transport porous med</text></g>
<g id="node-int-j-heat-mass-tran"><circle class="ng" cx="1131" cy="1847" r="7"/><text x="1137" y="1850" font-size="36.3">int j heat mass tran</text></g>
<g id="node-spe-j"><circle class="ng" cx="1527" cy="1889" r="19"/><text x="1528" y="1900" font-size="39.5">spe j</text></g>
<g id="node-int-j-rock-mech-min"><circle class="nb" cx="423" cy="1184" r="41"/><text x="420" y="1198" font-size="52">int j rock mech min</text></g>
<g id="node-rock-mech-rock-eng"><circle class="nb" cx="316" cy="1356" r="29"/><text x="317" y="1368" font-size="45">rock mech rock eng</text></g>
<g id="node-b-eng-geol-environ"><circle class="nb" cx="187" cy="1536" r="14"/><text x="191" y="1489" font-size="38">b eng geol environ</text></g>
<g id="node-constr-build-mater"><circle class="nb" cx="364" cy="1570" r="22"/><text x="363" y="1582" font-size="43">constr build mater</text></g>
<g id="node-geofluids"><circle class="nb" cx="1079" cy="1061" r="8"/><text x="1075" y="1063" font-size="37.5">geofluids</text></g>
<g id="node-energy"><circle class="nb" cx="1651" cy="1510" r="11"/><text x="1650" y="1520" font-size="37">energy</text></g>
</svg>
